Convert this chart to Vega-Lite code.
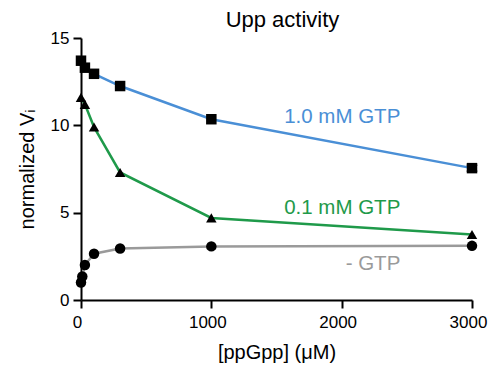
{
  "$schema": "https://vega.github.io/schema/vega-lite/v6.json",
  "width": 391,
  "height": 262,
  "autosize": "none",
  "padding": {"left": 81, "top": 38, "right": 18, "bottom": 73},
  "background": "white",
  "config": {
    "view": {"stroke": null},
    "font": "Liberation Sans",
    "axis": {"grid": false, "domainColor": "black", "domainWidth": 2, "tickColor": "black", "tickWidth": 2, "tickSize": 8, "labelFontSize": 17, "labelColor": "black", "labelFlush": false, "titleFontSize": 20, "titleFontWeight": "normal", "titleColor": "black"}
  },
  "title": {"text": "Upp activity", "fontSize": 22, "fontWeight": "normal", "offset": -3, "anchor": "middle", "dx": 6},
  "datasets": {
    "pts": [
      {"series": "1.0 mM GTP", "ppGpp": 0, "v": 13.7},
      {"series": "1.0 mM GTP", "ppGpp": 30, "v": 13.3},
      {"series": "1.0 mM GTP", "ppGpp": 100, "v": 12.95},
      {"series": "1.0 mM GTP", "ppGpp": 300, "v": 12.25},
      {"series": "1.0 mM GTP", "ppGpp": 1000, "v": 10.35},
      {"series": "1.0 mM GTP", "ppGpp": 3000, "v": 7.55},
      {"series": "0.1 mM GTP", "ppGpp": 0, "v": 11.6},
      {"series": "0.1 mM GTP", "ppGpp": 30, "v": 11.2},
      {"series": "0.1 mM GTP", "ppGpp": 100, "v": 9.9},
      {"series": "0.1 mM GTP", "ppGpp": 300, "v": 7.3},
      {"series": "0.1 mM GTP", "ppGpp": 1000, "v": 4.7},
      {"series": "0.1 mM GTP", "ppGpp": 3000, "v": 3.75},
      {"series": "- GTP", "ppGpp": 0, "v": 1.0},
      {"series": "- GTP", "ppGpp": 10, "v": 1.35},
      {"series": "- GTP", "ppGpp": 30, "v": 2.0},
      {"series": "- GTP", "ppGpp": 100, "v": 2.65},
      {"series": "- GTP", "ppGpp": 300, "v": 2.95},
      {"series": "- GTP", "ppGpp": 1000, "v": 3.07},
      {"series": "- GTP", "ppGpp": 3000, "v": 3.1}
    ],
    "err": [
      {"ppGpp": 3000, "lo": 7.38, "hi": 7.72}
    ],
    "labels": [
      {"series": "1.0 mM GTP", "ppGpp": 2450, "v": 10.5},
      {"series": "0.1 mM GTP", "ppGpp": 2450, "v": 5.25},
      {"series": "- GTP", "ppGpp": 2450, "v": 2.05}
    ]
  },
  "encoding": {
    "x": {"field": "ppGpp", "type": "quantitative", "scale": {"domain": [0, 3000], "nice": false}, "axis": {"values": [0, 1000, 2000, 3000], "format": "d", "title": "[ppGpp] (μM)", "titlePadding": 12, "labelPadding": 6, "labelOffset": -4}},
    "y": {"field": "v", "type": "quantitative", "scale": {"domain": [0, 15], "nice": false}, "axis": {"values": [0, 5, 10, 15], "title": "normalized Vᵢ", "titlePadding": 13, "labelPadding": 4}}
  },
  "layer": [
    {
      "data": {"name": "pts"},
      "mark": {"type": "line", "strokeWidth": 2.5},
      "encoding": {
        "color": {"field": "series", "type": "nominal", "scale": {"domain": ["1.0 mM GTP", "0.1 mM GTP", "- GTP"], "range": ["#4a8fd6", "#1f9a4a", "#9a9a9a"]}, "legend": null}
      }
    },
    {
      "data": {"name": "err"},
      "mark": {"type": "errorbar", "ticks": {"size": 11, "color": "black", "strokeWidth": 2}, "rule": {"color": "black", "strokeWidth": 2}},
      "encoding": {
        "y": {"field": "lo", "type": "quantitative"},
        "y2": {"field": "hi"}
      }
    },
    {
      "data": {"name": "pts"},
      "mark": {"type": "point", "filled": true, "opacity": 1, "color": "black", "size": 110},
      "encoding": {
        "shape": {"field": "series", "type": "nominal", "scale": {"domain": ["1.0 mM GTP", "0.1 mM GTP", "- GTP"], "range": ["square", "triangle-up", "circle"]}, "legend": null}
      }
    },
    {
      "data": {"name": "labels"},
      "mark": {"type": "text", "align": "right", "baseline": "middle", "fontSize": 20.5},
      "encoding": {
        "text": {"field": "series"},
        "color": {"field": "series", "type": "nominal", "legend": null}
      }
    }
  ]
}
